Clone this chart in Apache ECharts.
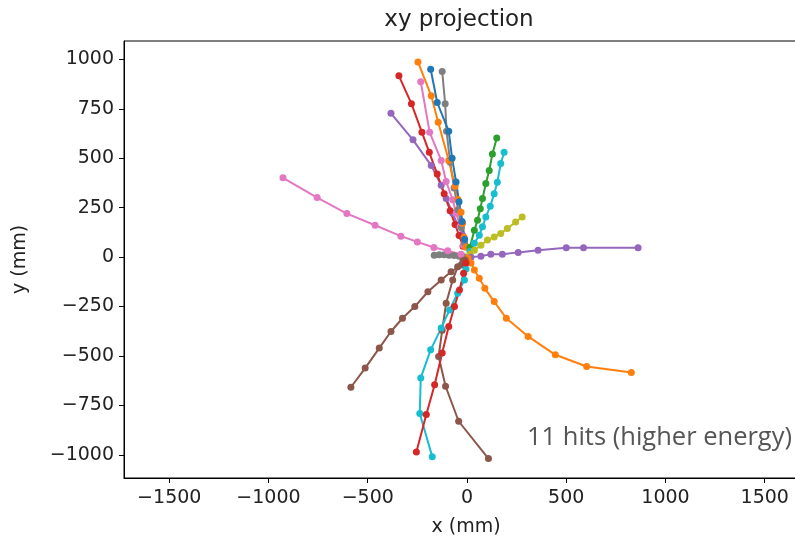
<!DOCTYPE html>
<html>
<head>
<meta charset="utf-8">
<script src="https://cdn.jsdelivr.net/npm/echarts@6/dist/echarts.min.js"></script>
<style>
html,body{margin:0;padding:0;background:#fff;overflow:hidden;width:795px;height:542px;}
#chart{width:815px;height:542px;}
</style>
</head>
<body>
<div id="chart"></div>
<script>
// ---- data (x mm, y mm) ----
const xTicks = [-1500, -1000, -500, 0, 500, 1000, 1500];
const yTicks = [-1000, -750, -500, -250, 0, 250, 500, 750, 1000];

const trackOrangeUp = [[-5,50],[-15,101],[-22,171],[-30,227],[-45,292],[-60,358],[-92,489],[-145,682],[-180,816],[-247,987]];
const trackBlueUp = [[-12,90],[-25,180],[-40,280],[-55,380],[-75,500],[-92,636],[-150,782],[-183,950]];
const trackGrayUp = [[-12,70],[-28,150],[-45,240],[-65,350],[-85,480],[-103,636],[-110,776],[-125,939]];
const trackRedUp = [[-20,55],[-40,110],[-60,165],[-85,235],[-115,320],[-150,420],[-190,530],[-227,631],[-280,776],[-343,917]];
const trackPinkUp = [[-18,60],[-34,155],[-55,222],[-72,290],[-105,382],[-130,489],[-188,631],[-233,887]];
const trackPurpleUp = [[-22,111],[-47,161],[-72,222],[-105,297],[-130,363],[-180,463],[-272,593],[-383,727]];
const trackGreen = [[15,50],[37,136],[53,186],[67,245],[78,296],[95,372],[112,438],[128,522],[150,603]];
const trackCyanUp = [[15,30],[37,70],[62,111],[78,153],[95,203],[117,257],[137,321],[153,379],[170,473],[187,530]];
const trackOlive = [[15,15],[37,35],[70,60],[103,86],[137,102],[170,119],[203,145],[245,178],[278,203]];
const trackPurpleRight = [[20,0],[70,5],[120,14],[178,14],[258,24],[358,35],[500,47],[587,47],[862,47]];
const trackPinkLeft = [[-30,14],[-97,32],[-167,49],[-250,77],[-333,106],[-463,161],[-605,220],[-755,301],[-927,401]];
const trackGrayLeft = [[-15,2],[-40,5],[-65,8],[-90,10],[-115,12],[-140,12],[-165,10]];
const trackOrangeDown = [[5,-5],[20,-30],[37,-65],[62,-107],[90,-158],[137,-225],[198,-309],[308,-401],[445,-494],[603,-553],[828,-583]];
const trackBrownLeft = [[-10,-15],[-30,-40],[-80,-74],[-130,-116],[-197,-175],[-263,-250],[-325,-309],[-383,-376],[-442,-460],[-513,-561],[-585,-658]];
const trackRedDown = [[-5,-30],[-17,-82],[-38,-166],[-63,-250],[-92,-351],[-125,-485],[-163,-645],[-205,-796],[-255,-986]];
const trackCyanDown = [[-5,-60],[-13,-116],[-47,-183],[-88,-267],[-130,-359],[-183,-469],[-233,-611],[-238,-791],[-175,-1009]];
const trackBrownDown = [[-20,-20],[-47,-49],[-72,-116],[-105,-233],[-125,-370],[-143,-502],[-108,-653],[-42,-830],[108,-1019]];

const tracks = [
  {data: trackGrayLeft, color: '#7f7f7f'},
  {data: trackPinkLeft, color: '#e377c2'},
  {data: trackPurpleUp, color: '#9467bd'},
  {data: trackRedUp, color: '#d62728'},
  {data: trackPinkUp, color: '#e377c2'},
  {data: trackGrayUp, color: '#7f7f7f'},
  {data: trackOrangeUp, color: '#ff7f0e'},
  {data: trackBlueUp, color: '#1f77b4'},
  {data: trackGreen, color: '#2ca02c'},
  {data: trackCyanUp, color: '#17becf'},
  {data: trackOlive, color: '#bcbd22'},
  {data: trackPurpleRight, color: '#9467bd'},
  {data: trackOrangeDown, color: '#ff7f0e'},
  {data: trackBrownLeft, color: '#8c564b'},
  {data: trackBrownDown, color: '#8c564b'},
  {data: trackCyanDown, color: '#17becf'},
  {data: trackRedDown, color: '#d62728'}
];

const tickFont = '"DejaVu Sans", sans-serif';

const chart = echarts.init(document.getElementById('chart'), null, {renderer: 'canvas'});
chart.setOption({
  animation: false,
  backgroundColor: '#ffffff',
  grid: {left: 124, right: 7, top: 41, bottom: 63, show: true, borderColor: '#000', borderWidth: 1, backgroundColor: 'transparent'},
  xAxis: {
    type: 'value', min: -1728, max: 1718,
    splitLine: {show: false},
    axisLine: {show: true, onZero: false, lineStyle: {color: '#000', width: 1}},
    axisTick: {show: true, length: 5, lineStyle: {color: '#000'}, customValues: xTicks},
    axisLabel: {customValues: xTicks, color: '#222', fontSize: 19, fontFamily: tickFont, margin: 11,
      formatter: v => (v < 0 ? '\u2212' + Math.abs(v) : String(v))},
    name: 'x (mm)', nameLocation: 'middle', nameGap: 40,
    nameTextStyle: {color: '#222', fontSize: 19, fontFamily: tickFont}
  },
  yAxis: {
    type: 'value', min: -1117, max: 1093,
    splitLine: {show: false},
    axisLine: {show: true, onZero: false, lineStyle: {color: '#000', width: 1}},
    axisTick: {show: true, length: 5, lineStyle: {color: '#000'}, customValues: yTicks},
    axisLabel: {customValues: yTicks, color: '#222', fontSize: 19, fontFamily: tickFont, margin: 10,
      formatter: v => (v < 0 ? '\u2212' + Math.abs(v) : String(v))},
    name: 'y (mm)', nameLocation: 'middle', nameGap: 94, nameRotate: 90,
    nameTextStyle: {color: '#222', fontSize: 19, fontFamily: tickFont}
  },
  graphic: [
    {type: 'text', x: 459, y: 9, style: {text: 'xy projection', fill: '#222', font: '23px "DejaVu Sans", sans-serif', align: 'center', textAlign: 'center'}},
    {type: 'text', left: 527, top: 425, style: {text: '11 hits (higher energy)', fill: '#555', font: '25.5px "Open Sans", sans-serif'}}
  ],
  series: tracks.map(t => ({
    type: 'line', data: t.data, symbol: 'circle', symbolSize: 7, showSymbol: true,
    itemStyle: {color: t.color}, lineStyle: {color: t.color, width: 2},
    emphasis: {disabled: true}, silent: true
  }))
});
</script>
</body>
</html>
